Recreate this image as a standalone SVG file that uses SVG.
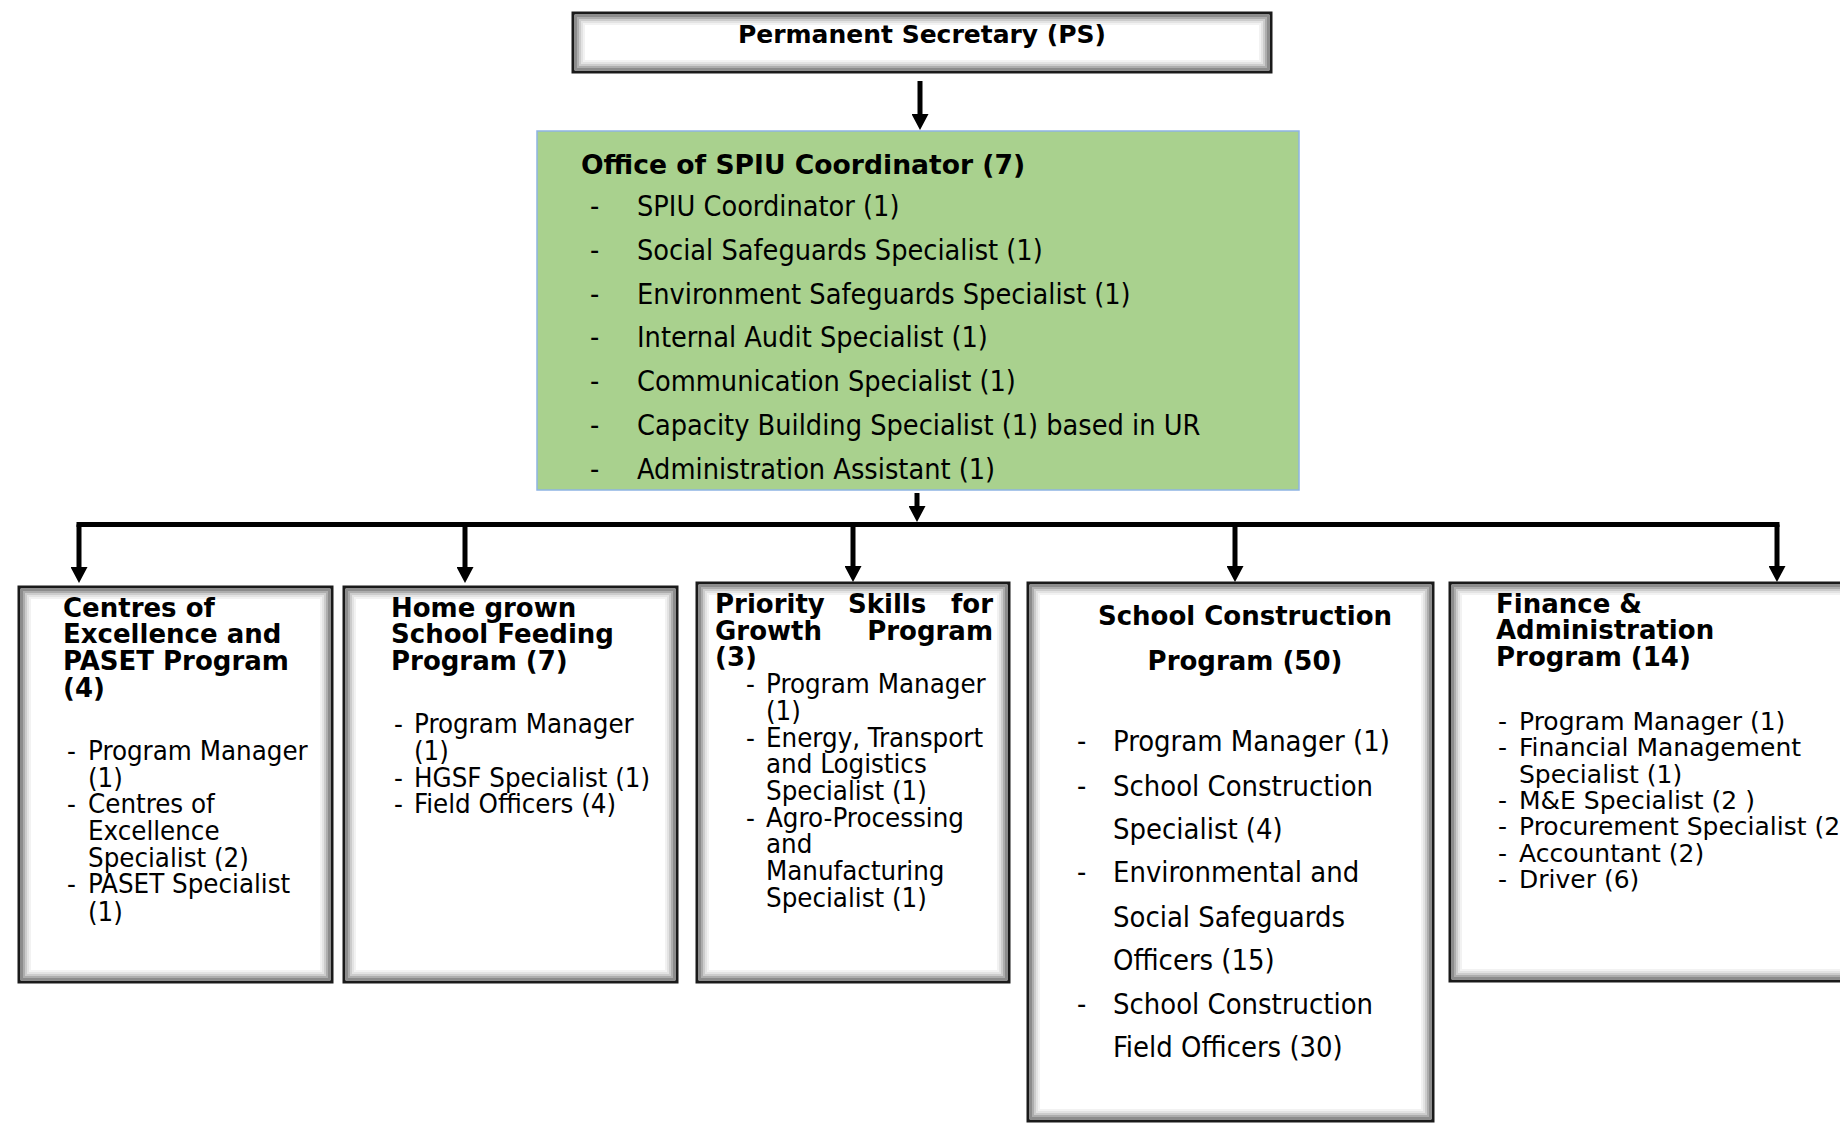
<svg xmlns="http://www.w3.org/2000/svg" width="1840" height="1124" viewBox="0 0 1840 1124">
<defs>
<style>
.box{fill:#fff;stroke:#1a1a1a;stroke-width:3}
.g1,.g2,.g3,.g4,.g5{fill:none;stroke:#000;stroke-width:2}
.g1{stroke-opacity:.45}
.g2{stroke-opacity:.32}
.g3{stroke-opacity:.2}
.g4{stroke-opacity:.11}
.g5{stroke-opacity:.05}
.green{fill:#A9D18E;stroke:#8EB4E3;stroke-width:1.5}
.hb{font-family:"DejaVu Sans",Verdana,sans-serif;font-weight:bold;font-size:26px;fill:#000}
.tn{font-family:"DejaVu Sans Condensed","DejaVu Sans",sans-serif;font-stretch:condensed;font-size:27.4px;fill:#000}
.tg{font-family:"DejaVu Sans Condensed","DejaVu Sans",sans-serif;font-stretch:condensed;font-size:28.6px;fill:#000}
.vr{font-family:"DejaVu Sans",Verdana,sans-serif;font-size:25px;fill:#000}
.mid{text-anchor:middle}
.end{text-anchor:end}
.conn{stroke:#000;stroke-width:5;fill:none}
</style>
<marker id="arr" markerUnits="userSpaceOnUse" markerWidth="16" markerHeight="17" viewBox="0 0 16 17" refX="0" refY="8.5" orient="auto">
<path d="M0,0 L16,8.5 L0,17 z" fill="#000"/>
</marker>
</defs>

<g id="connectors">
<path class="conn" d="M920,81 V114" marker-end="url(#arr)"/>
<path class="conn" d="M917,493 V506" marker-end="url(#arr)"/>
<path class="conn" d="M79,524.5 H1777" stroke-linecap="square"/>
<path class="conn" d="M79,524.5 V567" marker-end="url(#arr)"/>
<path class="conn" d="M465,524.5 V567" marker-end="url(#arr)"/>
<path class="conn" d="M853,524.5 V566" marker-end="url(#arr)"/>
<path class="conn" d="M1235,524.5 V566" marker-end="url(#arr)"/>
<path class="conn" d="M1777,524.5 V566" marker-end="url(#arr)"/>
</g>

<g id="ps">
<rect class="box" x="573" y="13" width="698" height="59"/>
<rect class="g1" x="576" y="16" width="692" height="53"/>
<rect class="g2" x="578" y="18" width="688" height="49"/>
<rect class="g3" x="580" y="20" width="684" height="45"/>
<rect class="g4" x="582" y="22" width="680" height="41"/>
<rect class="g5" x="584" y="24" width="676" height="37"/>
<text class="hb mid" x="922" y="43" style="font-size:25px">Permanent Secretary (PS)</text>
</g>

<g id="spiu">
<rect class="green" x="537" y="131" width="762" height="359"/>
<text class="hb" x="581" y="174" style="font-size:26.6px">Office of SPIU Coordinator (7)</text>
<text class="tg" x="590" y="216">-</text><text class="tg" x="637" y="216">SPIU Coordinator (1)</text>
<text class="tg" x="590" y="260">-</text><text class="tg" x="637" y="260">Social Safeguards Specialist (1)</text>
<text class="tg" x="590" y="304">-</text><text class="tg" x="637" y="304">Environment Safeguards Specialist (1)</text>
<text class="tg" x="590" y="347">-</text><text class="tg" x="637" y="347">Internal Audit Specialist (1)</text>
<text class="tg" x="590" y="391">-</text><text class="tg" x="637" y="391">Communication Specialist (1)</text>
<text class="tg" x="590" y="435">-</text><text class="tg" x="637" y="435">Capacity Building Specialist (1) based in UR</text>
<text class="tg" x="590" y="479">-</text><text class="tg" x="637" y="479">Administration Assistant (1)</text>
</g>

<g id="centres">
<rect class="box" x="19" y="587" width="313" height="395"/>
<rect class="g1" x="22" y="590" width="307" height="389"/>
<rect class="g2" x="24" y="592" width="303" height="385"/>
<rect class="g3" x="26" y="594" width="299" height="381"/>
<rect class="g4" x="28" y="596" width="295" height="377"/>
<rect class="g5" x="30" y="598" width="291" height="373"/>
<text class="hb" x="63" y="617">Centres of</text>
<text class="hb" x="63" y="643">Excellence and</text>
<text class="hb" x="63" y="670">PASET Program</text>
<text class="hb" x="63" y="697">(4)</text>
<text class="tn" x="67" y="760">-</text><text class="tn" x="88" y="760">Program Manager</text>
<text class="tn" x="88" y="787">(1)</text>
<text class="tn" x="67" y="813">-</text><text class="tn" x="88" y="813">Centres of</text>
<text class="tn" x="88" y="840">Excellence</text>
<text class="tn" x="88" y="867">Specialist (2)</text>
<text class="tn" x="67" y="893">-</text><text class="tn" x="88" y="893">PASET Specialist</text>
<text class="tn" x="88" y="921">(1)</text>
</g>

<g id="hgsf">
<rect class="box" x="344" y="587" width="333" height="395"/>
<rect class="g1" x="347" y="590" width="327" height="389"/>
<rect class="g2" x="349" y="592" width="323" height="385"/>
<rect class="g3" x="351" y="594" width="319" height="381"/>
<rect class="g4" x="353" y="596" width="315" height="377"/>
<rect class="g5" x="355" y="598" width="311" height="373"/>
<text class="hb" x="391" y="617">Home grown</text>
<text class="hb" x="391" y="643">School Feeding</text>
<text class="hb" x="391" y="670">Program (7)</text>
<text class="tn" x="394" y="733">-</text><text class="tn" x="414" y="733">Program Manager</text>
<text class="tn" x="414" y="760">(1)</text>
<text class="tn" x="394" y="787">-</text><text class="tn" x="414" y="787">HGSF Specialist (1)</text>
<text class="tn" x="394" y="813">-</text><text class="tn" x="414" y="813">Field Officers (4)</text>
</g>

<g id="psg">
<rect class="box" x="697" y="583" width="312" height="399"/>
<rect class="g1" x="700" y="586" width="306" height="393"/>
<rect class="g2" x="702" y="588" width="302" height="389"/>
<rect class="g3" x="704" y="590" width="298" height="385"/>
<rect class="g4" x="706" y="592" width="294" height="381"/>
<rect class="g5" x="708" y="594" width="290" height="377"/>
<text class="hb" x="715" y="613">Priority</text>
<text class="hb" x="848" y="613">Skills</text>
<text class="hb end" x="993" y="613">for</text>
<text class="hb" x="715" y="640">Growth</text>
<text class="hb end" x="993" y="640">Program</text>
<text class="hb" x="715" y="666">(3)</text>
<text class="tn" x="746" y="693">-</text><text class="tn" x="766" y="693">Program Manager</text>
<text class="tn" x="766" y="720">(1)</text>
<text class="tn" x="746" y="747">-</text><text class="tn" x="766" y="747">Energy, Transport</text>
<text class="tn" x="766" y="773">and Logistics</text>
<text class="tn" x="766" y="800">Specialist (1)</text>
<text class="tn" x="746" y="827">-</text><text class="tn" x="766" y="827">Agro-Processing</text>
<text class="tn" x="766" y="853">and</text>
<text class="tn" x="766" y="880">Manufacturing</text>
<text class="tn" x="766" y="907">Specialist (1)</text>
</g>

<g id="school">
<rect class="box" x="1028" y="583" width="405" height="538"/>
<rect class="g1" x="1031" y="586" width="399" height="532"/>
<rect class="g2" x="1033" y="588" width="395" height="528"/>
<rect class="g3" x="1035" y="590" width="391" height="524"/>
<rect class="g4" x="1037" y="592" width="387" height="520"/>
<rect class="g5" x="1039" y="594" width="383" height="516"/>
<text class="hb mid" x="1245" y="625">School Construction</text>
<text class="hb mid" x="1245" y="670">Program (50)</text>
<text class="tg" x="1077" y="751">-</text><text class="tg" x="1113" y="751" style="font-size:28.9px">Program Manager (1)</text>
<text class="tg" x="1077" y="796">-</text><text class="tg" x="1113" y="796" style="font-size:28.9px">School Construction</text>
<text class="tg" x="1113" y="839" style="font-size:28.9px">Specialist (4)</text>
<text class="tg" x="1077" y="882">-</text><text class="tg" x="1113" y="882" style="font-size:28.9px">Environmental and</text>
<text class="tg" x="1113" y="927" style="font-size:28.9px">Social Safeguards</text>
<text class="tg" x="1113" y="970" style="font-size:28.9px">Officers (15)</text>
<text class="tg" x="1077" y="1014">-</text><text class="tg" x="1113" y="1014" style="font-size:28.9px">School Construction</text>
<text class="tg" x="1113" y="1057" style="font-size:28.9px">Field Officers (30)</text>
</g>

<g id="finance">
<rect class="box" x="1450" y="583" width="420" height="398"/>
<rect class="g1" x="1453" y="586" width="414" height="392"/>
<rect class="g2" x="1455" y="588" width="410" height="388"/>
<rect class="g3" x="1457" y="590" width="406" height="384"/>
<rect class="g4" x="1459" y="592" width="402" height="380"/>
<rect class="g5" x="1461" y="594" width="398" height="376"/>
<text class="hb" x="1496" y="613">Finance &amp;</text>
<text class="hb" x="1496" y="639">Administration</text>
<text class="hb" x="1496" y="666">Program (14)</text>
<text class="vr" x="1498" y="730">-</text><text class="vr" x="1519" y="730">Program Manager (1)</text>
<text class="vr" x="1498" y="756">-</text><text class="vr" x="1519" y="756">Financial Management</text>
<text class="vr" x="1519" y="783">Specialist (1)</text>
<text class="vr" x="1498" y="809">-</text><text class="vr" x="1519" y="809">M&amp;E Specialist (2 )</text>
<text class="vr" x="1498" y="835">-</text><text class="vr" x="1519" y="835">Procurement Specialist (2)</text>
<text class="vr" x="1498" y="862">-</text><text class="vr" x="1519" y="862">Accountant (2)</text>
<text class="vr" x="1498" y="888">-</text><text class="vr" x="1519" y="888">Driver (6)</text>
</g>
</svg>
